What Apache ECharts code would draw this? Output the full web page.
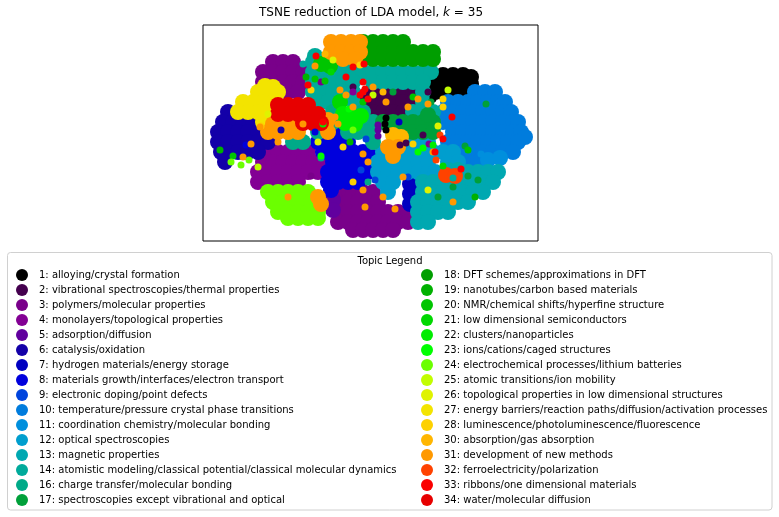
<!DOCTYPE html>
<html><head><meta charset="utf-8">
<script src="https://cdn.jsdelivr.net/npm/echarts@6/dist/echarts.min.js"></script>
<style>html,body{margin:0;padding:0;background:#fff}#c{width:779px;height:517px}</style>
</head><body><div id="c"></div>
<script>
// Topic labels (legend order)
const topicLabels = ["1: alloying/crystal formation","2: vibrational spectroscopies/thermal properties","3: polymers/molecular properties","4: monolayers/topological properties","5: adsorption/diffusion","6: catalysis/oxidation","7: hydrogen materials/energy storage","8: materials growth/interfaces/electron transport","9: electronic doping/point defects","10: temperature/pressure crystal phase transitions","11: coordination chemistry/molecular bonding","12: optical spectroscopies","13: magnetic properties","14: atomistic modeling/classical potential/classical molecular dynamics","16: charge transfer/molecular bonding","17: spectroscopies except vibrational and optical","18: DFT schemes/approximations in DFT","19: nanotubes/carbon based materials","20: NMR/chemical shifts/hyperfine structure","21: low dimensional semiconductors","22: clusters/nanoparticles","23: ions/cations/caged structures","24: electrochemical processes/lithium batteries","25: atomic transitions/ion mobility","26: topological properties in low dimensional structures","27: energy barriers/reaction paths/diffusion/activation processes","28: luminescence/photoluminescence/fluorescence","30: absorption/gas absorption","31: development of new methods","32: ferroelectricity/polarization","33: ribbons/one dimensional materials","34: water/molecular diffusion"];

// TSNE coordinates: dense cluster points (pN) and isolated points (sN), per topic
const p1 = [[240,167],[250,167],[260,167],[268,165],[232,158],[240,158],[250,158],[260,158],[268,158],[232,150],[240,150],[250,150],[260,150]];
const s1 = [[183,112],[182,118],[183,124],[230,143]];
const p2 = [[170,150],[180,150],[190,150],[200,150],[210,150],[160,140],[170,140],[180,140],[190,140],[200,140],[210,140],[170,130],[180,130],[190,130],[200,130]];
const s2 = [[220,107],[197,97],[203,99],[225,150],[150,155]];
const p3 = [[70,180],[80,180],[90,180],[60,170],[70,170],[80,170],[90,170],[100,170],[60,160],[70,160],[80,160],[90,160],[100,160],[85,150],[95,150],
  [140,50],[150,50],[160,50],[170,50],[125,40],[135,40],[145,40],[155,40],[165,40],[175,40],
  [135,30],[145,30],[155,30],[165,30],[175,30],[185,30],[195,30],[205,30],
  [135,20],[145,20],[155,20],[165,20],[175,20],[185,20],[195,20],[205,20],
  [150,12],[160,12],[170,12],[180,12],[190,12]];
const s3 = [[118,160],[108,66]];
const p4 = [[65,90],[75,90],[85,90],[95,90],[105,90],[60,80],[70,80],[80,80],[90,80],[100,80],[110,80],[120,80],
  [55,70],[65,70],[75,70],[85,70],[95,70],[105,70],[115,70],[55,60],[65,60],[75,60],[85,60],[95,60]];
const s4 = [[150,150],[226,98]];
const p5 = [[130,42],[130,32]];
const s5 = [[175,112],[175,106],[175,117]];
const p6 = [[25,130],[20,120],[30,120],[40,120],[50,120],[15,110],[25,110],[35,110],[45,110],[55,110],
  [15,100],[25,100],[35,100],[45,100],[55,100],[65,100],[18,90],[25,90],[35,90],[45,90],[55,90],[22,80]];
const s6 = [[78,112]];
const p7 = [[207,58],[207,48],[207,38]];
const s7 = [[196,120]];
const p8 = [[135,110],[115,100],[125,100],[135,100],[145,100],[120,90],[130,90],[140,90],[150,90],[160,90],
  [130,80],[140,80],[150,80],[160,80],[125,70],[135,70],[145,70],[155,70],[165,70],[125,60],[135,60],[145,60],[155,60],
  [128,52],[168,75],[170,85]];
const s8 = [[43,97],[112,110]];
const s9 = [[163,103],[158,72],[172,62],[205,65]];
const p10 = [[272,150],[282,150],[292,150],[245,140],[255,140],[265,140],[275,140],[285,140],[295,140],[302,140],
  [240,130],[250,130],[260,130],[270,130],[280,130],[290,130],[300,130],[308,130],
  [240,120],[250,120],[260,120],[270,120],[280,120],[290,120],[300,120],[310,120],[315,120],
  [250,110],[260,110],[270,110],[280,110],[290,110],[300,110],[310,110],[318,110],[322,105],
  [245,100],[255,100],[265,100],[275,100],[285,100],[295,100],[305,100],[315,100],
  [260,90],[270,90],[280,90],[290,90],[300,90],[310,90],[265,80],[275,80]];
const p11 = [[285,82],[297,84]];
const s11 = [[278,88]];
const p12 = [[205,100],[215,100],[225,100],[180,90],[190,90],[200,90],[210,90],[220,90],[230,90],[240,90],[250,90],
  [175,80],[185,80],[195,80],[205,80],[215,80],[225,80],[245,80],[255,80],
  [175,70],[185,70],[195,70],[205,70],[215,70],[225,70],[232,70],[180,60],[190,60],[185,50]];
const p13 = [[245,72],[255,72],[265,70],[275,70],[285,70],[295,70],[220,60],[230,60],[240,60],[250,60],[260,60],[270,60],[280,60],[290,60],
  [220,50],[230,50],[240,50],[250,50],[260,50],[270,50],[280,50],[215,40],[225,40],[235,40],[245,40],[255,40],[265,40],
  [215,30],[225,30],[235,30],[245,30],[215,20],[225,20]];
const p14 = [[112,186],[110,180],[120,180],[130,180],[140,180],[150,180],
  [110,170],[120,170],[130,170],[140,170],[150,170],[160,170],[170,170],[180,170],[190,170],[200,170],[210,170],[220,170],[228,170],
  [110,160],[120,160],[130,160],[140,160],[150,160],[170,160],[180,160],[190,160],[200,160],[210,160],[220,160],
  [110,150],[120,150],[130,150],[140,150],[150,150],[220,150],[115,140],[125,140],[150,140],[220,140],[210,130],[220,130],[230,130]];
const s14 = [[100,178],[250,64]];
const p16 = [[130,130],[160,130],[130,120],[160,120],[170,120],[115,110],[145,110],[155,110],[165,110],[90,100],[100,100],[170,100]];
const s16 = [[165,60],[118,84]];
const p17 = [[180,120],[190,120],[200,120],[210,120],[220,120],[230,120],[200,110],[210,110],[220,110],[230,110],[225,127]];
const s17 = [[228,140],[265,66],[275,62],[283,138],[250,55],[235,45],[190,150],[262,96]];
const p18 = [[160,200],[170,200],[180,200],[190,200],[200,200],
  [160,190],[170,190],[180,190],[190,190],[200,190],[210,190],[220,190],[230,190],
  [160,183],[170,183],[180,183],[190,183],[200,183],[210,183],[220,183],[230,183]];
const s19 = [[103,165],[17,92],[147,100],[272,45]];
const p20 = [[118,178],[127,176]];
const s20 = [[30,86],[112,163],[122,161],[160,140],[210,145],[265,92]];
const p21 = [[137,140]];
const s21 = [[128,170],[240,76]];
const p22 = [[140,128],[150,125],[142,119],[152,118],[158,126]];
const s22 = [[230,97],[120,118]];
const s23 = [[146,133],[220,94],[215,90],[118,86]];
const p24 = [[65,50],[75,50],[85,50],[95,50],[105,50],[70,40],[80,40],[90,40],[100,40],[108,40],
  [75,30],[85,30],[95,30],[105,30],[115,30],[85,24],[95,24],[105,24],[115,24]];
const s24 = [[28,80],[38,77],[46,82],[150,112]];
const s25 = [[55,75],[245,152],[170,147]];
const s26 = [[235,116],[115,100],[130,182],[225,52],[65,128]];
const p27 = [[55,150],[65,150],[75,150],[62,156],[70,155],[40,140],[50,140],[60,140],[70,140],[35,130],[45,130],[55,130],[65,130],[60,120]];
const s28 = [[108,152],[58,116],[140,95],[240,143],[157,177],[240,135],[150,60],[210,98]];
const p30 = [[190,107],[198,105]];
const s30 = [[122,188],[180,150]];
const p31 = [[128,200],[138,200],[148,200],[157,200],[128,190],[138,190],[148,190],[157,190],[140,183],[152,183],
  [70,118],[80,118],[90,118],[65,110],[75,110],[85,110],[95,110],[125,122],[125,110],
  [185,95],[195,95],[190,86],[115,45],[118,38]];
const s31 = [[75,100],[160,88],[165,80],[192,33],[215,143],[225,138],[170,155],[40,85],[112,176],[137,152],[143,147],
  [160,52],[162,35],[85,45],[183,140],[205,135],[150,135],[100,118],[57,115],[48,98],[200,65],[230,90],[250,40],[180,45],[132,125],[135,118]];
const p32 = [[243,67],[252,66]];
const s32 = [[237,107],[233,82]];
const s33 = [[143,165],[160,150],[157,147],[162,153],[160,160],[161,178],[113,186],[249,125],[232,90],[105,157],[150,175],[165,143],[240,103],[258,73],[120,120]];
const p34 = [[75,137],[85,137],[95,137],[105,137],[75,128],[85,128],[95,128],[105,128],[115,128],[100,119],[110,119],[118,119]];

const topicPoints = [p1,p2,p3,p4,p5,p6,p7,p8,[],p10,p11,p12,p13,p14,p16,p17,p18,[],p20,p21,p22,[],p24,[],[],p27,[],p30,p31,p32,[],p34];
const topicSpecks = [s1,s2,s3,s4,s5,s6,s7,s8,s9,[],s11,[],[],s14,s16,s17,[],s19,s20,s21,s22,s23,s24,s25,s26,[],s28,s30,s31,s32,s33,[]];

// nipy_spectral colormap
const NS_R=[0,0.4667,0.5333,0,0,0,0,0,0,0,0,0,0,0.7333,0.9333,1,1,1,0.8667,0.8,0.8];
const NS_G=[0,0,0,0,0,0.4667,0.6,0.6667,0.6667,0.6,0.7333,0.8667,1,1,0.9333,0.8,0.6,0,0,0,0.8];
const NS_B=[0,0.5333,0.6,0.6667,0.8667,0.8667,0.8667,0.6667,0.5333,0,0,0,0,0,0,0,0,0,0,0,0.8];
function cmap(v){
  const k=Math.min(19,Math.floor(v/0.05)); const t=(v-k*0.05)/0.05;
  const f=a=>Math.round(255*(a[k]+(a[k+1]-a[k])*t));
  return 'rgb('+f(NS_R)+','+f(NS_G)+','+f(NS_B)+')';
}

const chart = echarts.init(document.getElementById('c'), null, {renderer:'canvas'});
const series = [];
topicLabels.forEach((name,i)=>{
  series.push({type:'scatter', name:name, data:topicPoints[i], symbol:'circle', symbolSize:16, z:2,
    itemStyle:{color:cmap(i/35), opacity:1}, emphasis:{disabled:true}, silent:true});
});
topicLabels.forEach((name,i)=>{
  series.push({type:'scatter', name:name, data:topicSpecks[i], symbol:'circle', symbolSize:7, z:3,
    itemStyle:{color:cmap(i/35), opacity:1}, emphasis:{disabled:true}, silent:true});
});
const font='DejaVu Sans';
const legendBase = {
  orient:'vertical', icon:'circle', itemWidth:24, itemHeight:12, itemGap:3,
  selectedMode:false, padding:0,
  textStyle:{fontFamily:font, fontSize:10, color:'#000', lineHeight:12}
};
chart.setOption({
  animation:false,
  backgroundColor:'#fff',
  title:{
    text:'{a|TSNE reduction of LDA model, }{b|k}{a| = 35}',
    left:259, top:7, padding:0,
    textStyle:{fontWeight:'normal', rich:{a:{fontFamily:font,fontSize:12,fontWeight:'normal',color:'#000'},b:{fontFamily:font,fontSize:12,fontStyle:'italic',fontWeight:'normal',color:'#000'}}}
  },
  grid:{left:203, top:25, width:335, height:216, show:true, borderColor:'#000', borderWidth:1, backgroundColor:'transparent'},
  xAxis:{type:'value', min:0, max:335, show:false},
  yAxis:{type:'value', min:1, max:217, show:false},
  legend:[
    Object.assign({}, legendBase, {left:16, top:269, data:topicLabels.slice(0,16)}),
    Object.assign({}, legendBase, {left:421, top:269, data:topicLabels.slice(16)})
  ],
  graphic:[
    {type:'rect', z:-1, shape:{x:7.5,y:252.5,width:764.5,height:257.5,r:3}, style:{fill:'#fff', stroke:'#d0d0d0', lineWidth:1}},
    {type:'text', x:390, y:261, style:{text:'Topic Legend', font:'10px "DejaVu Sans"', fill:'#000', align:'center', verticalAlign:'middle'}}
  ],
  series: series
});
</script>
</body></html>
